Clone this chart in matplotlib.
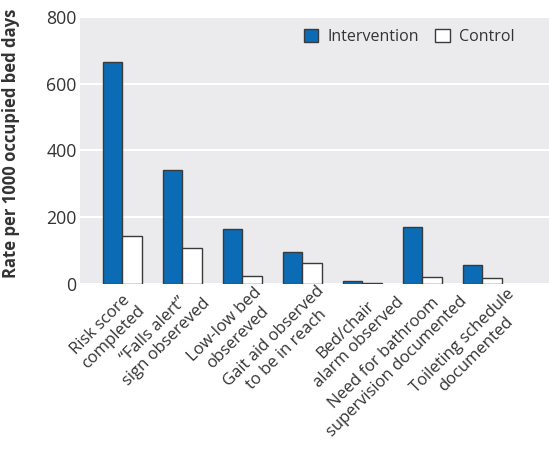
import matplotlib
matplotlib.use("Agg")
import matplotlib.pyplot as plt
import numpy as np

categories = ["Risk score\ncompleted", "\u201cFalls alert\u201d\nsign obsereved", "Low-low bed\nobsereved",
              "Gait aid observed\nto be in reach", "Bed/chair\nalarm observed",
              "Need for bathroom\nsupervision documented", "Toileting schedule\ndocumented"]
intervention = [665, 342, 165, 96, 9, 172, 57]
control = [143, 107, 25, 63, 4, 21, 17]
yticks = [0, 200, 400, 600, 800]

# layout: centre of each rotated label block relative to its tick (pixels right, pixels down)
label_offsets_px = [(-15, 47), (-22, 52), (-11, 47.5), (-22, 59), (-10, 52), (-32, 76), (-13, 64)]

plt.rcParams['font.family'] = ['Open Sans', 'DejaVu Sans']

fig = plt.figure(figsize=(5.49, 4.54), dpi=100)
ax = fig.add_axes([0.1457, 0.3744, 0.8543, 0.5886])
ax.set_facecolor('#EBEBEE')
x = np.arange(len(categories))
w = 0.325
ax.bar(x - w/2, intervention, w, color='#0B6BB5', edgecolor='#3A3A3A', linewidth=1.0, label='Intervention', zorder=3)
ax.bar(x + w/2, control, w, color='white', edgecolor='#3A3A3A', linewidth=1.0, label='Control', zorder=3)
ax.set_ylim(0, 800)
ax.set_xlim(-0.705, 7.11)
ax.set_yticks(yticks)
ax.set_yticklabels([str(v) for v in yticks], fontsize=12.7, color='#333333')
ax.yaxis.grid(True, color='white', linewidth=1.5, zorder=0)
ax.set_axisbelow(True)
for s in ax.spines.values():
    s.set_visible(False)
ax.tick_params(axis='y', length=0, pad=2.5)
ax.set_xticks(x)
ax.set_xticklabels([])
ax.tick_params(axis='x', length=0)
for xi, lab, (dx, dy) in zip(x, categories, label_offsets_px):
    ax.annotate(lab, xy=(xi, 0), xycoords='data', xytext=(dx * 0.72, -dy * 0.72), textcoords='offset points',
                rotation=45, rotation_mode='anchor', ha='center', va='center', multialignment='center',
                fontsize=12, color='#333333', linespacing=1.2, annotation_clip=False)
ax.set_ylabel('Rate per 1000 occupied bed days', fontsize=12, fontweight='bold', color='#333333')
ax.yaxis.set_label_coords(-0.128, 0.526)
leg = ax.legend(loc='upper right', ncol=2, frameon=False, fontsize=11.5, handlelength=0.9, handleheight=0.9,
                columnspacing=1.0, handletextpad=0.6, borderpad=0, borderaxespad=0,
                bbox_to_anchor=(0.9275, 0.955))
for t in leg.get_texts():
    t.set_color('#333333')
fig.savefig('out.png', dpi=100)
